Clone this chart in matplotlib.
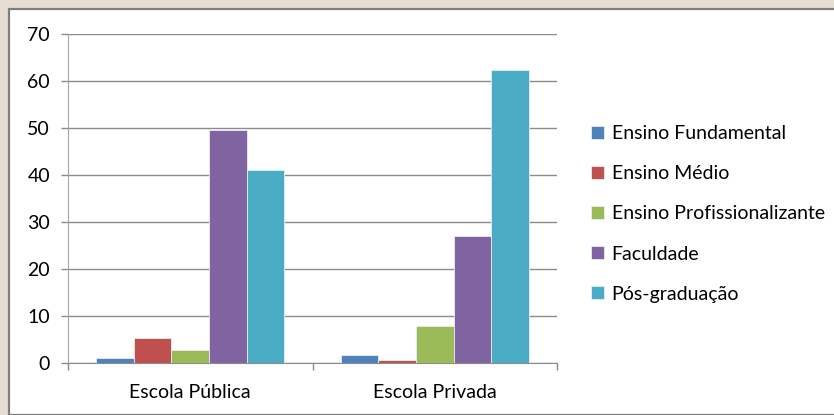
import matplotlib.pyplot as plt
import matplotlib.patches as mpatches
import numpy as np

plt.rcParams['font.family'] = ['Lato', 'DejaVu Sans']

escolas = ['Escola Pública', 'Escola Privada']
series = ['Ensino Fundamental', 'Ensino Médio', 'Ensino Profissionalizante',
          'Faculdade', 'Pós-graduação']
fundamental = [1.0, 1.6]
medio = [5.3, 0.7]
profissional = [2.8, 7.8]
faculdade = [49.6, 27.1]
pos = [41.1, 62.3]
cores = ['#4F81BD', '#C0504D', '#9BBB59', '#8064A2', '#4BACC6']

valores = [fundamental, medio, profissional, faculdade, pos]

fig = plt.figure(figsize=(8.34, 4.15), dpi=100)
fig.patch.set_facecolor('white')
# moldura bege + borda cinza
fig.patches.append(mpatches.Rectangle((0, 0), 1, 1, transform=fig.transFigure,
                                      facecolor='#E6DED2', edgecolor='none', zorder=-3))
fig.patches.append(mpatches.Rectangle((9/834, 0), 1, 1 - 9/415, transform=fig.transFigure,
                                      facecolor='white', edgecolor='#7F7F7F', linewidth=1.6, zorder=-2))

ax = fig.add_axes([68/834, 52/415, 489/834, 329/415])
x = np.arange(len(escolas))
w = 1 / 6.5
for i, (nome, vals) in enumerate(zip(series, valores)):
    ax.bar(x + (i - 2) * w, vals, w, color=cores[i], label=nome,
           edgecolor='#E8EEF5', linewidth=0.6, zorder=3)

ax.set_xlim(-0.5, 1.5)
ax.set_ylim(0, 70)
ax.set_yticks(range(0, 71, 10))
ax.yaxis.grid(True, color='#8C8C8C', linewidth=1.0, zorder=0)
ax.set_xticks(x)
ax.set_xticklabels(escolas, fontsize=14)
ax.set_xticks([-0.5, 0.5, 1.5], minor=True)
ax.tick_params(axis='x', which='major', length=0, pad=15)
ax.tick_params(axis='x', which='minor', length=5, color='#8C8C8C', width=1)
ax.tick_params(axis='y', length=5, color='#8C8C8C', width=1, labelsize=14, pad=8)
for s in ['top', 'right']:
    ax.spines[s].set_visible(False)
ax.spines['left'].set_color('#A6A6A6')
ax.spines['bottom'].set_color('#8C8C8C')

ax.legend(loc='center left', bbox_to_anchor=(1.034, 0.453), frameon=False,
          fontsize=14, handlelength=0.65, handleheight=0.65, handletextpad=0.4,
          labelspacing=1.19)

fig.savefig('out.png', dpi=100)
